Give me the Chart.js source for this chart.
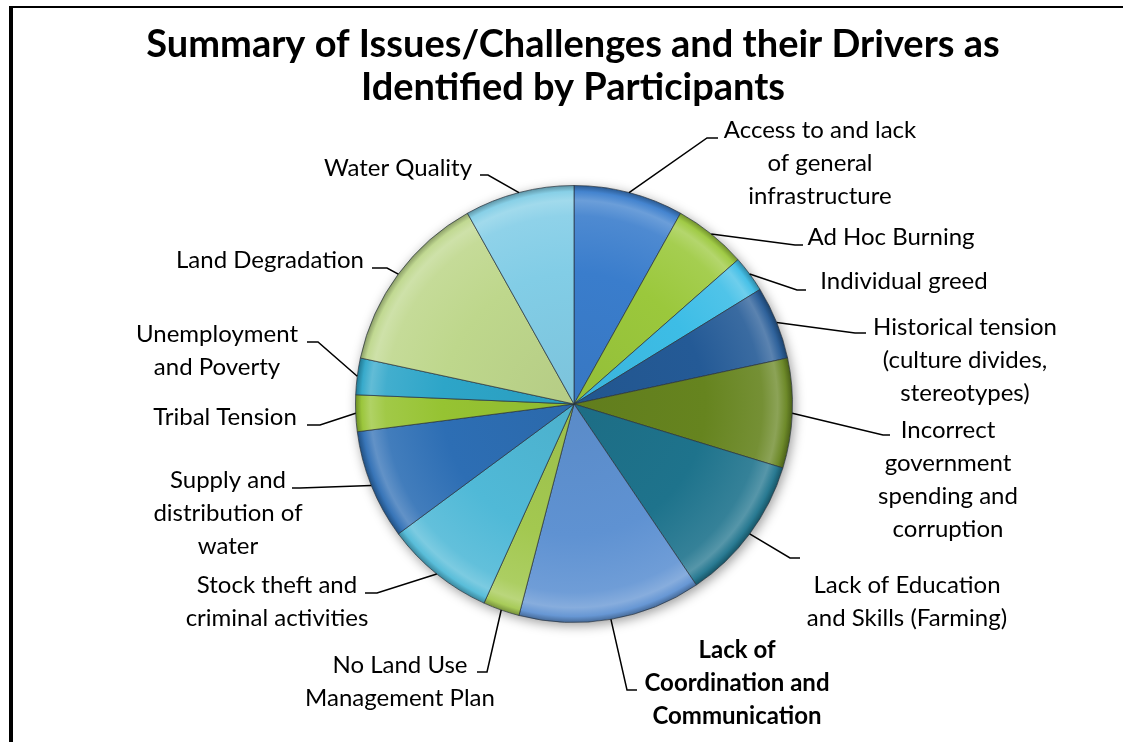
<!DOCTYPE html>
<html>
<head>
<meta charset="utf-8">
<script src="https://cdn.jsdelivr.net/npm/chart.js@4.4.1/dist/chart.umd.min.js"></script>
<style>
  html, body { margin: 0; padding: 0; background: #fff; overflow: hidden; }
  canvas { position: absolute; left: 0; top: 0; }
</style>
</head>
<body>
<canvas id="pieChart" width="1131" height="742"></canvas>
<script>
// Chart data
const titleLines = ['Summary of Issues/Challenges and their Drivers as', 'Identified by Participants'];

const categories = [
  ['Access to and lack', 'of general', 'infrastructure'],
  ['Ad Hoc Burning'],
  ['Individual greed'],
  ['Historical tension', '(culture divides,', 'stereotypes)'],
  ['Incorrect', 'government', 'spending and', 'corruption'],
  ['Lack of Education', 'and Skills (Farming)'],
  ['Lack of', 'Coordination and', 'Communication'],
  ['No Land Use', 'Management Plan'],
  ['Stock theft and', 'criminal activities'],
  ['Supply and', 'distribution of', 'water'],
  ['Tribal Tension'],
  ['Unemployment', 'and Poverty'],
  ['Land Degradation'],
  ['Water Quality']
];

const mentions = [3, 2, 1, 2, 3, 4, 5, 1, 3, 3, 1, 1, 5, 3];

const sliceColors = [
  '#3a7dcc', '#9bc83c', '#3dbde6', '#245a96', '#66841f', '#1e738c', '#5f92d2',
  '#a3c850', '#50b9d7', '#2d6eb4', '#96c332', '#2da5c8', '#bed78c', '#82cde6'
];

// label placement, offsets from the pie centre (px)
const labelLayout = [
  { elbow: [133, -266], end: [144, -266], cx: 246, y: -274 },
  { elbow: [221, -159], end: [229, -159], cx: 317, y: -167 },
  { elbow: [223, -114], end: [232, -114], cx: 330, y: -123 },
  { elbow: [281, -71],  end: [292, -71],  cx: 391, y: -77 },
  { elbow: [309, 31],   end: [316, 31],   cx: 374, y: 26 },
  { elbow: [216, 154],  end: [226, 154],  cx: 333, y: 181 },
  { elbow: [53, 286],   end: [63, 286],   cx: 163, y: 246, bold: true },
  { elbow: [-87, 268],  end: [-97, 268],  cx: -174, y: 261 },
  { elbow: [-197, 189], end: [-209, 189], cx: -297, y: 181 },
  { elbow: [-274, 84],  end: [-282, 84],  cx: -346, y: 76 },
  { elbow: [-254, 21],  end: [-267, 21],  cx: -349, y: 13 },
  { elbow: [-256, -62], end: [-267, -62], cx: -357, y: -70 },
  { elbow: [-187, -136], end: [-202, -136], cx: -304, y: -144 },
  { elbow: [-86, -229], end: [-94, -229], cx: -176, y: -236 }
];

function shade(hex, amt) {
  const n = parseInt(hex.slice(1), 16);
  let r = (n >> 16) & 255, g = (n >> 8) & 255, b = n & 255;
  const f = (c) => amt >= 0 ? Math.round(c + (255 - c) * amt) : Math.round(c * (1 + amt));
  return `rgb(${f(r)},${f(g)},${f(b)})`;
}

// bevel-like radial gradient for each slice
function sliceFill(context) {
  const chart = context.chart;
  const area = chart.chartArea;
  if (!area) return sliceColors[context.dataIndex];
  const base = sliceColors[context.dataIndex];
  const cx = (area.left + area.right) / 2;
  const cy = (area.top + area.bottom) / 2;
  const r = Math.min(area.right - area.left, area.bottom - area.top) / 2;
  const g = chart.ctx.createRadialGradient(cx, cy, 0, cx, cy, r);
  g.addColorStop(0, shade(base, -0.05));
  g.addColorStop(0.6, base);
  g.addColorStop(0.86, shade(base, 0.1));
  g.addColorStop(0.93, shade(base, 0.25));
  g.addColorStop(0.97, shade(base, 0.05));
  g.addColorStop(1, shade(base, -0.3));
  return g;
}

const pieShadow = {
  id: 'pieShadow',
  beforeDatasetsDraw(chart) {
    const arc = chart.getDatasetMeta(0).data[0];
    if (!arc) return;
    const ctx = chart.ctx;
    ctx.save();
    ctx.shadowColor = 'rgba(0,0,0,0.4)';
    ctx.shadowBlur = 12;
    ctx.shadowOffsetX = 2;
    ctx.shadowOffsetY = 3;
    ctx.fillStyle = '#ffffff';
    ctx.beginPath();
    ctx.arc(arc.x, arc.y, arc.outerRadius, 0, Math.PI * 2);
    ctx.fill();
    ctx.restore();
  }
};

const titleAndLabels = {
  id: 'titleAndLabels',
  afterDraw(chart) {
    const ctx = chart.ctx;
    ctx.save();
    // outer frame (top and left edges)
    ctx.fillStyle = '#000';
    ctx.fillRect(9, 6, 1114, 2);
    ctx.fillRect(9, 6, 4, 736);

    ctx.textAlign = 'center';
    ctx.textBaseline = 'middle';
    ctx.font = 'bold 38px Lato';
    ctx.fillText(titleLines[0], 573, 45);
    ctx.fillText(titleLines[1], 573, 88);

    const meta = chart.getDatasetMeta(0);
    meta.data.forEach((arc, i) => {
      const lay = labelLayout[i];
      const mid = (arc.startAngle + arc.endAngle) / 2;
      const sx = arc.x + Math.cos(mid) * arc.outerRadius;
      const sy = arc.y + Math.sin(mid) * arc.outerRadius;
      ctx.strokeStyle = '#000';
      ctx.lineWidth = 1.5;
      ctx.beginPath();
      ctx.moveTo(sx, sy);
      ctx.lineTo(arc.x + lay.elbow[0], arc.y + lay.elbow[1]);
      ctx.lineTo(arc.x + lay.end[0], arc.y + lay.end[1]);
      ctx.stroke();

      ctx.font = (lay.bold ? 'bold ' : '') + '24px Lato';
      categories[i].forEach((line, k) => {
        ctx.fillText(line, arc.x + lay.cx, arc.y + lay.y + k * 33);
      });
    });
    ctx.restore();
  }
};

new Chart(document.getElementById('pieChart').getContext('2d'), {
  type: 'pie',
  data: {
    labels: categories,
    datasets: [{
      data: mentions,
      backgroundColor: sliceFill,
      borderColor: 'rgba(40,50,60,0.7)',
      borderWidth: 1,
      hoverOffset: 0
    }]
  },
  options: {
    responsive: false,
    animation: false,
    layout: { padding: { left: 355, right: 338, top: 185, bottom: 119 } },
    plugins: {
      legend: { display: false },
      tooltip: { enabled: false },
      title: { display: false }
    }
  },
  plugins: [pieShadow, titleAndLabels]
});
</script>
</body>
</html>
